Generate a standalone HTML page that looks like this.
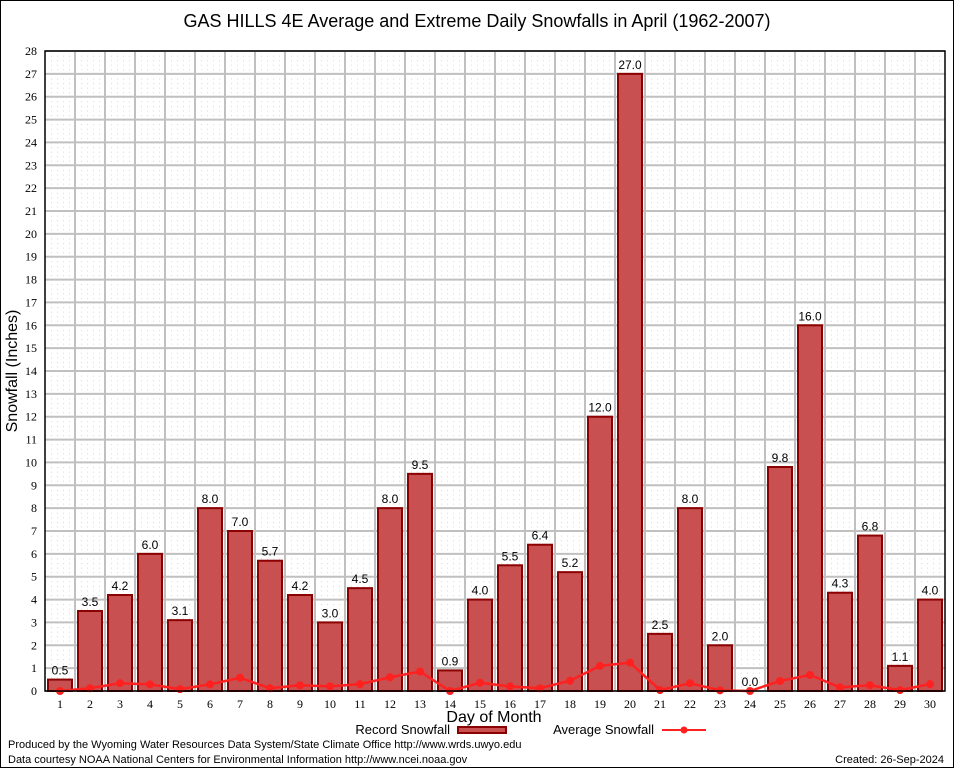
<!DOCTYPE html>
<html><head><meta charset="utf-8"><style>
body{margin:0;background:#fff;}
svg{display:block;font-family:"Liberation Sans",sans-serif;}
</style></head><body>
<svg id="chart" width="954" height="768">
<defs>
<pattern id="minor" width="6" height="4.571" patternUnits="userSpaceOnUse" x="45" y="691">
<rect width="6" height="4.571" fill="#fff"/><rect width="1" height="1" fill="#d8d8d8"/>
</pattern>
</defs>
<rect x="0.5" y="0.5" width="953" height="767" fill="#fff" stroke="#000"/>
<text x="477" y="27" font-size="18" text-anchor="middle">GAS HILLS 4E Average and Extreme Daily Snowfalls in April (1962-2007)</text>
<rect x="45" y="51" width="900" height="640" fill="url(#minor)"/>
<g id="grid"></g>
<g id="bars"></g>
<g id="avg"></g>
<g id="axes"></g>
<text transform="translate(17,371) rotate(-90)" font-size="16" text-anchor="middle">Snowfall (Inches)</text>
<text x="494" y="722" font-size="16" text-anchor="middle">Day of Month</text>
<g>
<text x="450" y="734" font-size="13" text-anchor="end">Record Snowfall</text>
<rect x="458" y="727" width="48" height="6" fill="#c85050" stroke="#8b0000" stroke-width="2"/>
<text x="654" y="734" font-size="13" text-anchor="end">Average Snowfall</text>
<line x1="662" y1="730" x2="706" y2="730" stroke="#ff2020" stroke-width="2"/>
<circle cx="684" cy="730" r="3.5" fill="#ff2020"/>
</g>
<text x="8" y="748" font-size="11">Produced by the Wyoming Water Resources Data System/State Climate Office http://www.wrds.uwyo.edu</text>
<text x="8" y="763" font-size="11">Data courtesy NOAA National Centers for Environmental Information http://www.ncei.noaa.gov</text>
<text x="944" y="763" font-size="11" text-anchor="end">Created: 26-Sep-2024</text>
</svg>
<script>
const days = [1,2,3,4,5,6,7,8,9,10,11,12,13,14,15,16,17,18,19,20,21,22,23,24,25,26,27,28,29,30];
const recordSnow = [0.5,3.5,4.2,6.0,3.1,8.0,7.0,5.7,4.2,3.0,4.5,8.0,9.5,0.9,4.0,5.5,6.4,5.2,12.0,27.0,2.5,8.0,2.0,0.0,9.8,16.0,4.3,6.8,1.1,4.0];
const avgSnow = [0.0,0.12,0.34,0.29,0.08,0.29,0.58,0.12,0.25,0.2,0.3,0.6,0.85,0.0,0.36,0.2,0.12,0.45,1.1,1.24,0.04,0.34,0.03,0.0,0.44,0.7,0.16,0.25,0.04,0.3];
const yTicks = [0,1,2,3,4,5,6,7,8,9,10,11,12,13,14,15,16,17,18,19,20,21,22,23,24,25,26,27,28];
const NS="http://www.w3.org/2000/svg";
const L=45,R=945,T=51,B=691,YMAX=28;
const slot=(R-L)/days.length;
const xc=d=>L+slot*(d-0.5);
const y=v=>B-(v/YMAX)*(B-T);
function mk(parent,tag,attrs){const e=document.createElementNS(NS,tag);for(const k in attrs)e.setAttribute(k,attrs[k]);document.getElementById(parent).appendChild(e);return e;}
yTicks.forEach(t=>{
 const g=mk('grid','line',{x1:L,x2:R,y1:y(t),y2:y(t),stroke:'#c0c0c0','stroke-width':2});
 
 
 const lb=mk('axes','text',{x:L-8,y:y(t)+4,'font-size':12,'text-anchor':'end','font-family':'Liberation Serif, serif'});
 lb.textContent=t;
 
 
});
for(let i=1;i<days.length;i++){
 const g=mk('grid','line',{x1:L+slot*i,x2:L+slot*i,y1:T,y2:B,stroke:'#c0c0c0','stroke-width':2});
 
 
}
days.forEach((d,i)=>{
 const v=recordSnow[i],bw=24;
 const r=mk('bars','rect',{x:xc(d)-bw/2,y:y(v),width:bw,height:B-y(v),fill:'#c85050',stroke:'#8b0000','stroke-width':2});
 
 
 const t=mk('bars','text',{x:xc(d),y:y(v)-5,'font-size':12,'text-anchor':'middle'});
 t.textContent=v.toFixed(1);
 
 
 const xl=mk('axes','text',{x:xc(d),y:B+17,'font-size':12,'text-anchor':'middle','font-family':'Liberation Serif, serif'});
 xl.textContent=d;
 
 
});
const pl=mk('avg','polyline',{points:days.map((d,i)=>xc(d)+','+y(avgSnow[i])).join(' '),fill:'none',stroke:'#ff2020','stroke-width':2.5});


days.forEach((d,i)=>{
 const c=mk('avg','circle',{cx:xc(d),cy:y(avgSnow[i]),r:4,fill:'#ff2020'});
 
 
});
const ax=mk('axes','rect',{x:L,y:T,width:R-L,height:B-T,fill:'none',stroke:'#000','stroke-width':1.5});


</script>
</body></html>
